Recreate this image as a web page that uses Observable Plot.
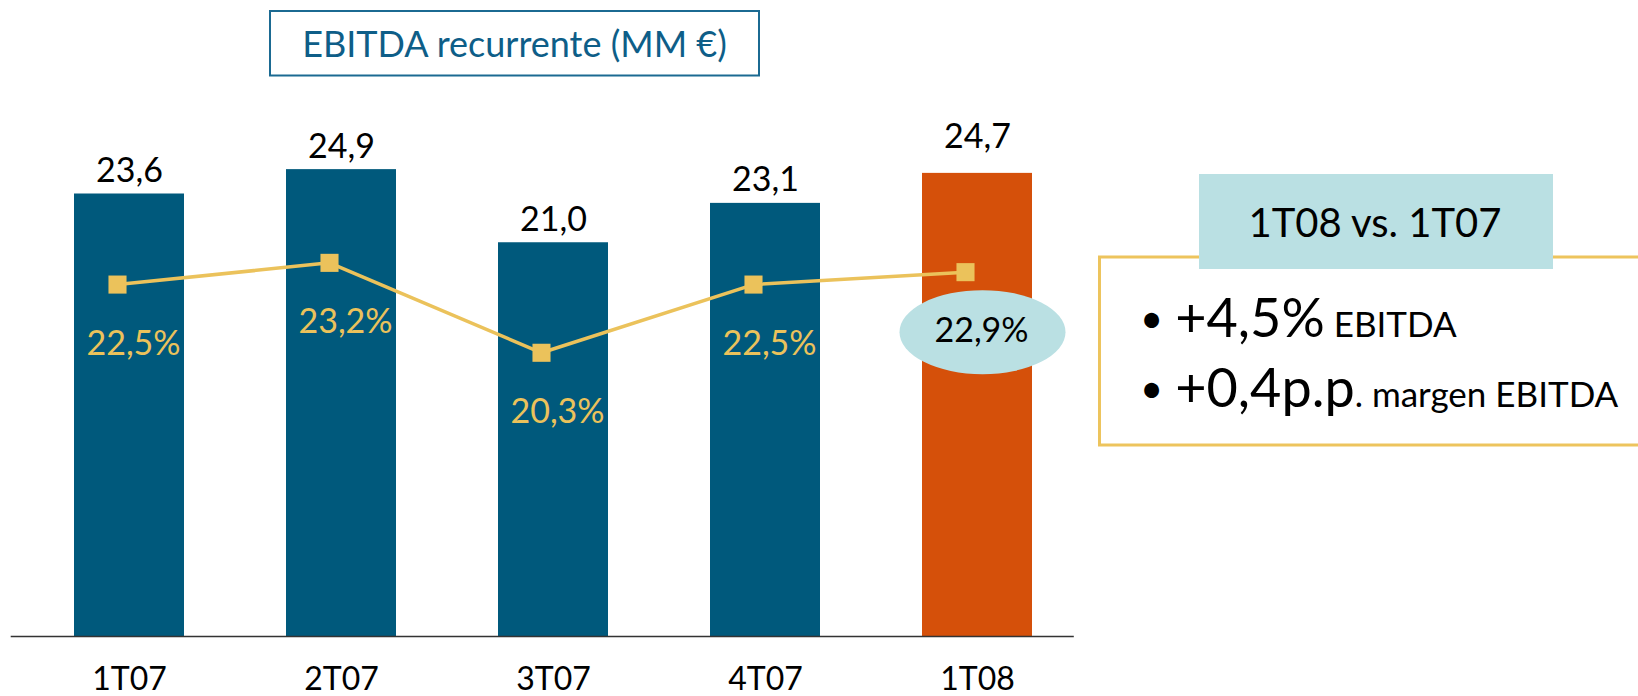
<!DOCTYPE html>
<html>
<head>
<meta charset="utf-8">
<script src="https://cdn.jsdelivr.net/npm/d3@7"></script>
<script src="https://cdn.jsdelivr.net/npm/@observablehq/plot@0.6"></script>
<style>
  html, body { margin: 0; padding: 0; background: #fff; }
  body { width: 1638px; height: 696px; position: relative; overflow: hidden; font-family: Lato, "Noto Sans", sans-serif; }
  #chart { position: absolute; left: 0; top: 0; }
  #overlay { position: absolute; left: 0; top: 0; pointer-events: none; }
</style>
</head>
<body>
<div id="chart"></div>
<svg id="overlay" width="1638" height="696" font-family="Lato, 'Noto Sans', sans-serif">
  <!-- title -->
  <rect x="270" y="11" width="489" height="64.5" fill="none" stroke="#1B6A92" stroke-width="2"></rect>
  <text id="title" x="514.5" y="57" text-anchor="middle" font-size="36" fill="#0E5E88"></text>
  <!-- summary panel -->
  <rect x="1099.5" y="257" width="600" height="188" fill="none" stroke="#EDC45D" stroke-width="3"></rect>
  <rect x="1199" y="174" width="354" height="95" fill="#BAE0E3"></rect>
  <text id="panelTitle" x="1375" y="237" text-anchor="middle" font-size="40" fill="#000"></text>
  <text id="bullet1" x="1140" y="337" font-size="54" fill="#000"></text>
  <text id="bullet2" x="1140" y="407" font-size="54" fill="#000"></text>
</svg>
<script>
// ---- data ----
const quarters = ["1T07", "2T07", "3T07", "4T07", "1T08"];
const ebitda = [23.6, 24.9, 21.0, 23.1, 24.7];      // MM €
const marginPct = [22.5, 23.2, 20.3, 22.5, 22.9];   // EBITDA margin %
const highlight = "1T08";
const titleText = "EBITDA recurrente (MM €)";
const panelTitle = "1T08 vs. 1T07";
const bullets = [
  { big: "+4,5%", small: " EBITDA" },
  { big: "+0,4p.p", small: ". margen EBITDA" }
];

// ---- styling ----
const BLUE = "#00597C", ORANGE = "#D5500A", GOLD = "#EBC25B", TEAL = "#BAE0E3";

const data = quarters.map((q, i) => ({
  q, ebitda: ebitda[i], margin: marginPct[i],
  color: q === highlight ? ORANGE : BLUE
}));

const fmt = v => v.toFixed(1).replace(".", ",");
// secondary (hidden) axis for the margin line, mapped onto the bar y units
const marginAxis = d3.scaleLinear([11.15, 30.5], [0, 32]);

const chart = Plot.plot({
  width: 1638,
  height: 696,
  marginTop: 36,
  marginBottom: 60,
  marginLeft: 21.7,
  marginRight: 553.2,
  style: { fontFamily: "Lato, 'Noto Sans', sans-serif", fontSize: "32px", color: "#000", background: "transparent" },
  x: { domain: quarters, paddingInner: 0.483, paddingOuter: 0.2415, align: 0.5, tickSize: 0, tickPadding: 31, label: null },
  y: { domain: [0, 32], axis: null },
  color: { type: "identity" },
  marks: [
    Plot.barY(data, { x: "q", y: "ebitda", fill: "color" }),
    Plot.ruleY([0], { stroke: "#333", strokeWidth: 1.5, insetLeft: -11, insetRight: 11 }),
    // highlight ellipse behind the 1T08 margin label
    Plot.dot(data.filter(d => d.q === highlight), {
      x: "q", y: d => marginAxis(d.margin), r: 42, fill: TEAL, stroke: "none", dx: 5, dy: 60,
      render(index, scales, values, dimensions, context, next) {
        const g = next(index, scales, values, dimensions, context);
        g.querySelectorAll("circle").forEach(c => {
          const e = document.createElementNS("http://www.w3.org/2000/svg", "ellipse");
          e.setAttribute("cx", c.getAttribute("cx"));
          e.setAttribute("cy", c.getAttribute("cy"));
          e.setAttribute("rx", 83);
          e.setAttribute("ry", 42);
          e.setAttribute("fill", TEAL);
          c.replaceWith(e);
        });
        return g;
      }
    }),
    Plot.line(data, { x: "q", y: d => marginAxis(d.margin), stroke: GOLD, strokeWidth: 3.5, dx: -12 }),
    Plot.dot(data, { x: "q", y: d => marginAxis(d.margin), symbol: "square", r: 10.2, fill: GOLD, stroke: "none", dx: -12 }),
    // value labels above bars
    Plot.text(data.filter(d => d.q !== highlight), { x: "q", y: "ebitda", text: d => fmt(d.ebitda), lineAnchor: "bottom", dy: -12, fontSize: 34, fill: "#000" }),
    Plot.text(data.filter(d => d.q === highlight), { x: "q", y: "ebitda", text: d => fmt(d.ebitda), lineAnchor: "bottom", dy: -25, fontSize: 34, fill: "#000" }),
    // margin labels
    Plot.text(data, { x: "q", y: d => marginAxis(d.margin), text: d => fmt(d.margin) + "%", lineAnchor: "bottom", dy: 70, dx: 4, fontSize: 34,
      fill: d => d.q === highlight ? "#000" : GOLD })
  ]
});
document.getElementById("chart").appendChild(chart);

// ---- overlay text ----
document.getElementById("title").textContent = titleText;
document.getElementById("panelTitle").textContent = panelTitle;
bullets.forEach((b, i) => {
  const t = d3.select("#bullet" + (i + 1));
  t.append("tspan").attr("font-size", 40).attr("dy", -4).text("•");
  t.append("tspan").attr("font-size", 54).attr("dy", 4).attr("dx", 12).text(b.big);
  t.append("tspan").attr("font-size", 35).text(b.small);
});
</script>
</body>
</html>
